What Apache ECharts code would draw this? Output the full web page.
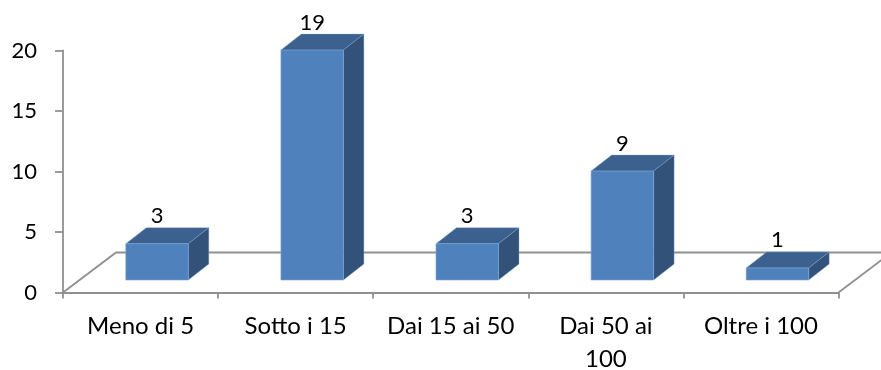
<!DOCTYPE html>
<html><head><meta charset="utf-8">
<style>html,body{margin:0;padding:0;background:#fff}#c{width:881px;height:370px}</style>
<script src="https://cdn.jsdelivr.net/npm/echarts@6/dist/echarts.min.js"></script>
</head><body><div id="c"></div>
<script>
const categories = ['Meno di 5','Sotto i 15','Dai 15 ai 50','Dai 50 ai\n100','Oltre i 100'];
const values = [3,19,3,9,1];
const yTicks = {min:0,max:20,interval:5};

const FONT = 'Lato';
const AXIS = '#909090';
const AXIS_W = 1.8;
const FRONT = '#4f81bd', TOP = '#3d618f', SIDE = '#325279', EDGE = '#7ea6d6';
const BAR_W = 62.5, SHIFT_X = 16.5, LIFT = 12.5, DX = 20.5, DY = 16;
const FLOOR_DX = 53, FLOOR_DY = 40;

const chart = echarts.init(document.getElementById('c'), null, {renderer:'canvas'});

function renderFloor(params, api){
  const left = params.coordSys.x, right = left + params.coordSys.width;
  const y = api.coord([0,0])[1];
  const style = {stroke:AXIS, lineWidth:AXIS_W, fill:'none'};
  return {type:'group', silent:true, children:[
    {type:'polyline', shape:{points:[[left,y],[left+FLOOR_DX,y-FLOOR_DY],[right+FLOOR_DX,y-FLOOR_DY]]}, style},
    {type:'line', shape:{x1:right,y1:y,x2:right+FLOOR_DX,y2:y-FLOOR_DY}, style}
  ]};
}

function renderBar(params, api){
  const i = api.value(0), v = api.value(1);
  const c = api.coord([i,v]), b = api.coord([i,0]);
  const x0 = c[0] + SHIFT_X - BAR_W/2, x1 = x0 + BAR_W;
  const yt = c[1] - LIFT, yb = b[1] - LIFT;
  return {type:'group', children:[
    {type:'polygon', shape:{points:[[x0,yt],[x0+DX,yt-DY],[x1+DX,yt-DY],[x1,yt]]}, style:{fill:TOP, stroke:EDGE, lineWidth:0.4}},
    {type:'polygon', shape:{points:[[x1,yt],[x1+DX,yt-DY],[x1+DX,yb-DY],[x1,yb]]}, style:{fill:SIDE, stroke:EDGE, lineWidth:0.4}},
    {type:'rect', shape:{x:x0,y:yt,width:BAR_W,height:yb-yt}, style:{fill:FRONT, stroke:EDGE, lineWidth:0.6}},
    {type:'text', x:x0+BAR_W/2, y:yt-27.5, style:{text:String(v), font:'22px '+FONT, fill:'#000', align:'center', verticalAlign:'middle'}}
  ]};
}

chart.setOption({
  animation:false,
  backgroundColor:'#fff',
  grid:{left:63, right:42.5, top:50.5, bottom:77.5, containLabel:false, outerBoundsMode:'none'},
  xAxis:{type:'category', data:categories, boundaryGap:true,
    axisLine:{lineStyle:{color:AXIS,width:AXIS_W}},
    axisTick:{show:true,alignWithLabel:false,length:6,lineStyle:{color:AXIS,width:AXIS_W}},
    axisLabel:{interval:0,color:'#000',fontFamily:FONT,fontSize:24,lineHeight:33,margin:17}},
  yAxis:{type:'value', min:yTicks.min, max:yTicks.max, interval:yTicks.interval,
    splitLine:{show:false},
    axisLine:{show:true,lineStyle:{color:AXIS,width:AXIS_W}},
    axisTick:{show:true,length:8,lineStyle:{color:AXIS,width:AXIS_W}},
    axisLabel:{color:'#000',fontFamily:FONT,fontSize:22,margin:26}},
  series:[
    {type:'custom', name:'floor', coordinateSystem:'cartesian2d', clip:false, z:1, silent:true,
      renderItem:renderFloor, data:[[0,0]]},
    {type:'custom', name:'Valori', coordinateSystem:'cartesian2d', clip:false, z:3,
      encode:{x:0,y:1}, renderItem:renderBar, data:values.map((v,i)=>[i,v])}
  ]
});
</script></body></html>
